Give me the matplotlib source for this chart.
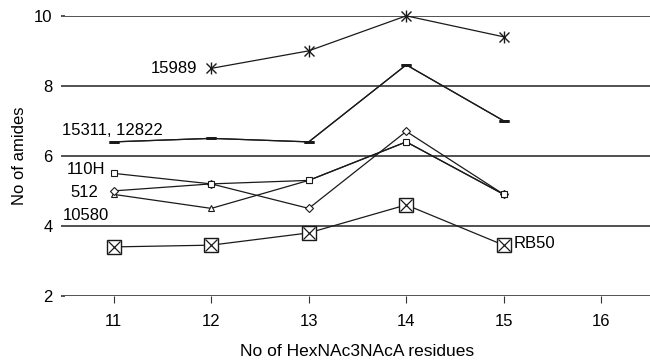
import matplotlib
matplotlib.use("Agg")
import matplotlib.pyplot as plt

plt.rcParams['font.family'] = ['Liberation Sans', 'DejaVu Sans']

residues = [11, 12, 13, 14, 15]
s15989_x = [12, 13, 14, 15]
s15989 = [8.5, 9.0, 10.0, 9.4]
s15311 = [6.4, 6.5, 6.4, 8.6, 7.0]
s110H = [5.5, 5.2, 5.3, 6.4, 4.9]
s512 = [5.0, 5.2, 4.5, 6.7, 4.9]
s10580 = [4.9, 4.5, 5.3, 6.4, 4.9]
sRB50 = [3.4, 3.45, 3.8, 4.6, 3.45]
xticks = [11, 12, 13, 14, 15, 16]
yticks = [2, 4, 6, 8, 10]

fig = plt.figure(figsize=(6.5, 3.6), dpi=100)
ax = fig.add_axes([0.1, 0.178, 0.9, 0.778])
ax.set_xlim(10.5, 16.5)
ax.set_ylim(2, 10)

for yv in yticks:
    ax.axhline(yv, color='#333333', lw=1.2, zorder=1)

c = '#1a1a1a'
kw = dict(color=c, lw=0.9, clip_on=False, zorder=3)
ax.plot(s15989_x, s15989, marker='x', ms=7, mew=1.0, **kw)
ax.plot(s15989_x, s15989, ls='none', marker='|', ms=8, mew=1.0, color=c,
        clip_on=False, zorder=4)
ax.plot(residues, s15311, marker='_', ms=7, mew=2.0, **kw)
ax.plot(residues, s15311, marker='_', ms=7, mew=2.0, **kw)
ax.plot(residues, s10580, marker='^', ms=5, mfc='white', mew=0.8, **kw)
ax.plot(residues, s512, marker='D', ms=4.5, mfc='white', mew=0.8, **kw)
ax.plot(residues, s110H, marker='s', ms=4.5, mfc='white', mew=0.8, **kw)
ax.plot(residues, sRB50, marker='s', ms=10, mfc='white', mew=1.0, **kw)
ax.plot(residues, sRB50, ls='none', marker='x', ms=8, mew=0.9, color=c,
        clip_on=False, zorder=4)

fs = 12
ax.text(11.86, 8.5, '15989', ha='right', va='center', fontsize=fs)
ax.text(10.47, 6.72, '15311, 12822', ha='left', va='center', fontsize=fs)
ax.text(10.91, 5.62, '110H', ha='right', va='center', fontsize=fs)
ax.text(10.84, 4.96, '512', ha='right', va='center', fontsize=fs)
ax.text(10.95, 4.3, '10580', ha='right', va='center', fontsize=fs)
ax.text(15.1, 3.5, 'RB50', ha='left', va='center', fontsize=fs)

ax.set_xticks(xticks)
ax.set_yticks(yticks)
ax.tick_params(axis='x', length=5, width=0.8, color='#333333', pad=8, labelsize=fs)
ax.tick_params(axis='y', length=3, width=1.2, color='#333333', pad=6, labelsize=fs)
for s in ax.spines.values():
    s.set_visible(False)

ax.set_xlabel('No of HexNAc3NAcA residues', fontsize=12.5, labelpad=11)
ax.set_ylabel('No of amides', fontsize=fs, labelpad=5)

fig.savefig('out.png', dpi=100)
